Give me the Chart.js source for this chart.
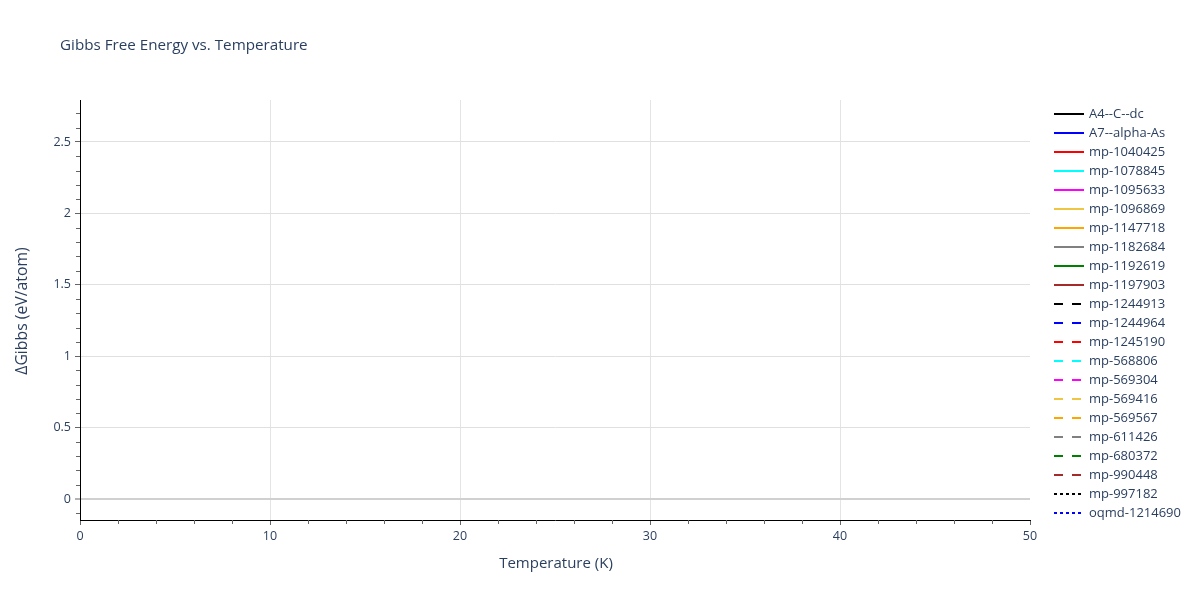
<!DOCTYPE html>
<html>
<head>
<meta charset="utf-8">
<script src="https://cdn.jsdelivr.net/npm/chart.js@4.4.1/dist/chart.umd.min.js"></script>
<style>
html,body{margin:0;padding:0;background:#fff;}
#wrap{width:1200px;height:600px;position:relative;}
</style>
</head>
<body>
<div id="wrap"><canvas id="c" width="1200" height="600"></canvas></div>
<script>
// ---- data ----
const seriesNames = ["A4--C--dc","A7--alpha-As","mp-1040425","mp-1078845","mp-1095633","mp-1096869","mp-1147718","mp-1182684","mp-1192619","mp-1197903","mp-1244913","mp-1244964","mp-1245190","mp-568806","mp-569304","mp-569416","mp-569567","mp-611426","mp-680372","mp-990448","mp-997182","oqmd-1214690"];
const seriesColors = ["#000000","#0000ff","#ff0000","#00ffff","#ff00ff","#eec643","#ffa500","#808080","#008000","#a52a2a","#000000","#0000ff","#ff0000","#00ffff","#ff00ff","#eec643","#ffa500","#808080","#008000","#a52a2a","#000000","#0000ff"];
const seriesDash = ["solid","solid","solid","solid","solid","solid","solid","solid","solid","solid","dash","dash","dash","dash","dash","dash","dash","dash","dash","dash","dot","dot"];
// No curve is visible inside the plotted window, so every series is empty.
const seriesValues = seriesNames.map(() => []);
const xTicks = [0,10,20,30,40,50];
const yTicks = [0,0.5,1,1.5,2,2.5];
const xRange = [0,50];
const yRange = [-0.147,2.794];

const dashMap = {solid:[], dash:[9,9], dot:[3,3]};
const FONT = '"Open Sans", "Liberation Sans", Arial, sans-serif';
const TXT = '#2a3f5f';

const datasets = seriesNames.map((n,i)=>({
  label:n,
  data:seriesValues[i],
  borderColor:seriesColors[i],
  backgroundColor:seriesColors[i],
  borderWidth:2,
  borderDash:dashMap[seriesDash[i]],
  pointRadius:0,
  fill:false
}));

const decor = {
  id:'decor',
  afterDraw(chart){
    const ctx = chart.ctx, a = chart.chartArea;
    const xs = chart.scales.x, ys = chart.scales.y;
    ctx.save();
    // minor ticks
    ctx.strokeStyle = '#666';
    ctx.lineWidth = 1;
    ctx.beginPath();
    for(let v=2; v<50; v+=2){
      if(v%10===0) continue;
      const px = Math.round(xs.getPixelForValue(v))+0.5;
      ctx.moveTo(px,a.bottom); ctx.lineTo(px,a.bottom+4);
    }
    for(let k=-1; k<=27; k++){
      if(k%5===0) continue;
      const py = Math.round(ys.getPixelForValue(k/10))+0.5;
      ctx.moveTo(a.left,py); ctx.lineTo(a.left-4,py);
    }
    ctx.stroke();
    // title
    ctx.fillStyle = TXT;
    ctx.font = '15.2px '+FONT;
    ctx.textAlign='left'; ctx.textBaseline='middle';
    ctx.fillText('Gibbs Free Energy vs. Temperature', 60, 45.5);
    // axis titles
    ctx.font = '15px '+FONT;
    ctx.textAlign='center';
    ctx.fillText('Temperature (K)', (a.left+a.right)/2+1, 563.5);
    ctx.save();
    ctx.translate(22,(a.top+a.bottom)/2+1);
    ctx.rotate(-Math.PI/2);
    ctx.font = '15.8px '+FONT;
    ctx.fillText('\u0394Gibbs (eV/atom)',0,0);
    ctx.restore();
    // legend
    ctx.font = '13px '+FONT;
    ctx.textAlign='left';
    chart.data.datasets.forEach((d,i)=>{
      const y = 114 + i*19;
      ctx.beginPath();
      ctx.strokeStyle = d.borderColor;
      ctx.lineWidth = 2;
      ctx.setLineDash(d.borderDash);
      ctx.moveTo(1054,y); ctx.lineTo(1084,y);
      ctx.stroke();
      ctx.setLineDash([]);
      ctx.fillStyle = TXT;
      ctx.fillText(d.label,1089,y);
    });
    ctx.restore();
  }
};

new Chart(document.getElementById('c'),{
  type:'line',
  data:{datasets},
  options:{
    responsive:false,
    animation:false,
    layout:{padding:{top:100,right:170,bottom:0,left:0}},
    plugins:{legend:{display:false},title:{display:false},tooltip:{enabled:false}},
    scales:{
      x:{
        type:'linear', min:xRange[0], max:xRange[1],
        afterFit(s){s.height=80;},
        afterBuildTicks(s){s.ticks = xTicks.map(v=>({value:v}));},
        ticks:{color:TXT,font:{family:FONT,size:12.5},padding:4,maxRotation:0,autoSkip:false,callback:v=>String(v)},
        grid:{
          color:c=> (c.tick && (c.tick.value===0||c.tick.value===50)) ? 'rgba(0,0,0,0)' : '#e4e4e4',
          lineWidth:1, tickLength:5, tickColor:'#666', tickWidth:1
        },
        border:{display:true,color:'#000',width:1}
      },
      y:{
        type:'linear', min:yRange[0], max:yRange[1],
        afterFit(s){s.width=80;},
        afterBuildTicks(s){s.ticks = yTicks.map(v=>({value:v}));},
        ticks:{color:TXT,font:{family:FONT,size:12.5},padding:4,autoSkip:false,callback:v=>String(v)},
        grid:{
          color:c=> (c.tick && c.tick.value===0) ? '#d0d0d0' : '#e0e0e0',
          lineWidth:c=> (c.tick && c.tick.value===0) ? 2 : 1,
          tickLength:5, tickColor:'#666', tickWidth:1
        },
        border:{display:true,color:'#000',width:1}
      }
    }
  },
  plugins:[decor]
});
</script>
</body>
</html>
